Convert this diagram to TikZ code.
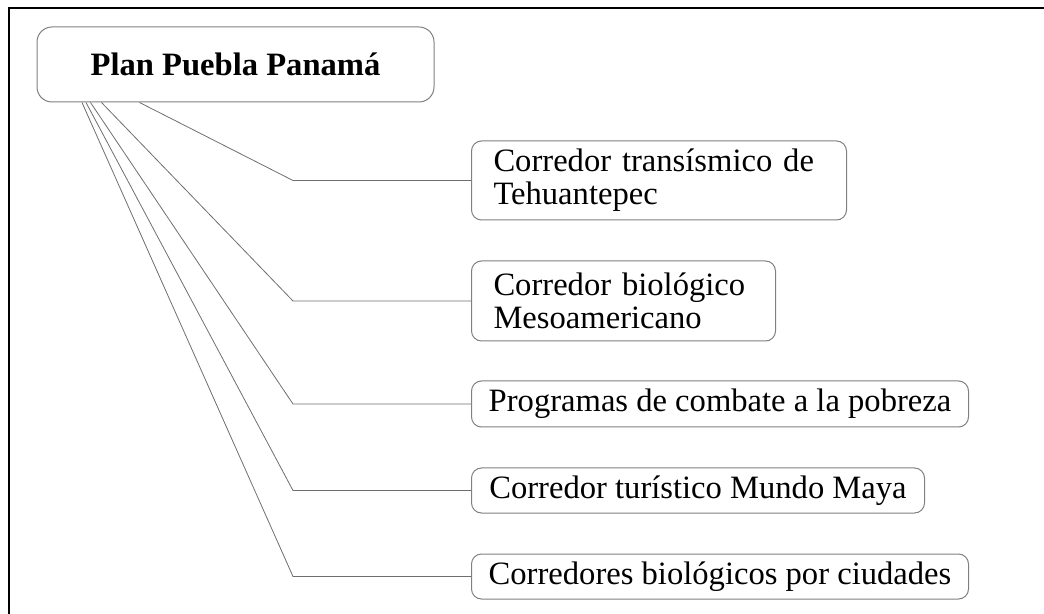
\documentclass[tikz,border=0pt]{standalone}
\usepackage{fontspec}
\setmainfont{Liberation Serif}
\usepackage{tikz}
\usetikzlibrary{positioning,calc}
\definecolor{BoxGray}{HTML}{808080}
\definecolor{LinkGray}{HTML}{6E6E6E}

\begin{document}
\begin{tikzpicture}[
  x=0.5pt,y=-0.5pt,
  font=\fontsize{16.3}{16.5}\selectfont,
  rootbox/.style={draw=BoxGray,line width=0.5pt,rounded corners=7.5pt,minimum width=198.5pt,minimum height=37.5pt,font=\fontsize{16.3}{16.5}\selectfont\bfseries},
  itembox/.style={draw=BoxGray,line width=0.5pt,rounded corners=5pt,anchor=west,align=left,inner xsep=8pt},
  twoline/.style={itembox,inner xsep=11pt}
]
\useasboundingbox (0,0) rectangle (1044,614);

% outer frame (right and bottom edges fall outside the page)
\draw[line width=0.9pt] (9,640) |- (1070,8);

% root
\node[rootbox] (ppp) at (235.5,64.5) {Plan Puebla Panamá};

% items
\node[twoline,text width=165.5pt,minimum height=39.5pt] (tehuantepec) at (471,180.5)
  {Corredor transísmico de\\Tehuantepec};
\node[twoline,text width=130pt,minimum height=40pt] (mesoamericano) at (471,301)
  {Corredor biológico\\Mesoamericano};
\node[itembox,minimum width=248.5pt,minimum height=23pt] (pobreza) at (471,404)
  {Programas de combate a la pobreza};
\node[itembox,minimum width=226.5pt,minimum height=22.5pt] (mundomaya) at (471,490.5)
  {Corredor turístico Mundo Maya};
\node[itembox,minimum width=248.5pt,minimum height=22.5pt] (ciudades) at (471,576.5)
  {Corredores biológicos por ciudades};

% fan of connectors from the root
\coordinate (elbow) at (293,0);
\foreach \sx/\item in {140/tehuantepec,102/mesoamericano,91/pobreza,86.5/mundomaya,82.5/ciudades} {
  \draw[draw=LinkGray,line width=0.4pt] ($(ppp.south west)+(\sx-37,0)$) -- (elbow |- \item.west) -- (\item.west);
}

\end{tikzpicture}
\end{document}
